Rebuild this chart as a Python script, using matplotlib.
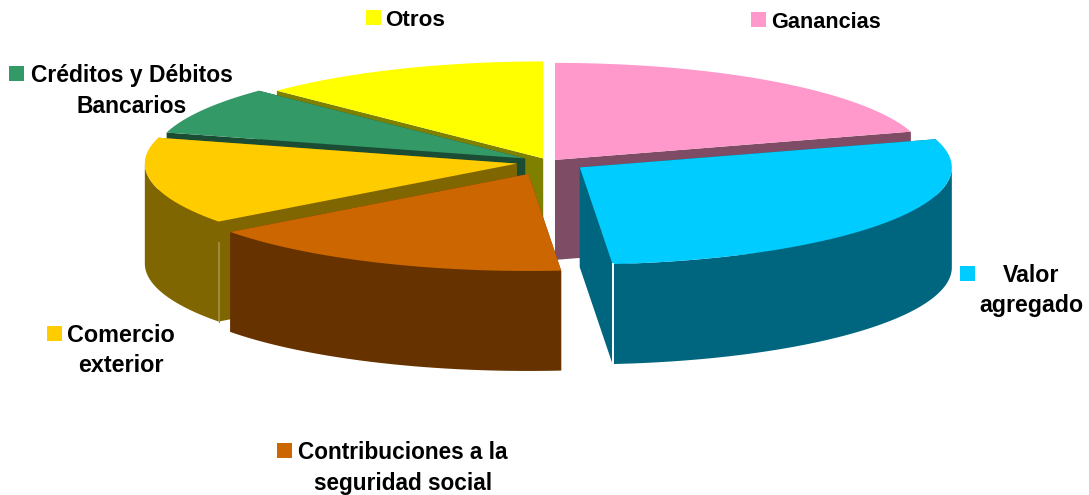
import numpy as np
import matplotlib
matplotlib.use("Agg")
import matplotlib.pyplot as plt
from matplotlib.patches import Polygon, Rectangle

categories = ["Ganancias", "Valor agregado", "Contribuciones a la seguridad social",
              "Comercio exterior", "Créditos y Débitos Bancarios", "Otros"]
values = [20.3, 28.3, 16.2, 14.5, 8.0, 12.7]
explode = [0.027, 0.10, 0.135, 0.088, 0.074, 0.04]
top_colors = ["#FF99CC", "#00CCFF", "#CC6600", "#FFCC00", "#339966", "#FFFF00"]
wall_colors = ["#7F4C66", "#006680", "#663300", "#806600", "#1A4D33", "#808000"]
draw_order = [0, 5, 4, 3, 2, 1]

W, H = 1089, 495
CX, CY, RX, RY, DEPTH = 549, 162, 372, 97, 100

plt.rcParams["font.family"] = ["Liberation Sans", "DejaVu Sans"]
fig = plt.figure(figsize=(W / 100, H / 100), dpi=100, facecolor="white")
ax = fig.add_axes([0, 0, 1, 1])
ax.set_xlim(0, W)
ax.set_ylim(H, 0)
ax.axis("off")

edges = np.concatenate([[0], np.cumsum(values)]) / sum(values) * 2 * np.pi


def rim(a0, a1, ox, oy, n=120):
    t = np.linspace(a0, a1, n)
    return np.column_stack([ox + RX * np.sin(t), oy - RY * np.cos(t)])


down = np.array([0, DEPTH])
for i in draw_order:
    z = draw_order.index(i) * 4
    a0, a1 = edges[i], edges[i + 1]
    mid = (a0 + a1) / 2
    ox = CX + explode[i] * RX * np.sin(mid)
    oy = CY - explode[i] * RY * np.cos(mid)
    apex = np.array([ox, oy])
    r = rim(a0, a1, ox, oy)
    for p in (r[0], r[-1]):
        ax.add_patch(Polygon([apex, p, p + down, apex + down], fc=wall_colors[i], ec="none", zorder=z + 1))
    front0, front1 = max(a0, np.pi / 2), min(a1, 3 * np.pi / 2)
    if front1 > front0:
        f = rim(front0, front1, ox, oy)
        ax.add_patch(Polygon(np.vstack([f, (f + down)[::-1]]), fc=wall_colors[i], ec="none", zorder=z + 2))
    ax.add_patch(Polygon(np.vstack([apex, r]), fc=top_colors[i], ec="none", zorder=z + 3))
    if categories[i] == "Valor agregado":
        ax.plot([r[-1][0]] * 2, [r[-1][1], r[-1][1] + DEPTH], color="white", lw=1.4, zorder=z + 3)
    if categories[i] == "Comercio exterior":
        ax.plot([r[0][0]] * 2, [r[0][1] + 20, r[0][1] + DEPTH], color="#9C8A40", lw=0.8, zorder=z + 3)

labels = ["Otros", "Ganancias", "Créditos y Débitos\nBancarios", "Valor\nagregado",
          "Comercio\nexterior", "Contribuciones a la\nseguridad social"]
label_colors = ["#FFFF00", "#FF99CC", "#339966", "#00CCFF", "#FFCC00", "#CC6600"]
label_sizes = [16.2, 15.6, 16.5, 16.7, 16.8, 16.3]
label_xy = [(415, 20), (826.5, 22), (131.5, 91), (1031.5, 290.5), (120.5, 350.5), (403, 468)]
swatch_xy = [(366, 10), (751, 12), (9, 66), (960, 266), (47, 326), (277, 443)]

for txt, col, size, (x, y), (sx, sy) in zip(labels, label_colors, label_sizes, label_xy, swatch_xy):
    ax.add_patch(Rectangle((sx, sy), 15, 15, fc=col, ec="none", zorder=40))
    ax.text(x, y, txt, ha="center", va="center", fontsize=size, fontweight="bold",
            color="black", linespacing=1.41, zorder=41)

fig.savefig("out.png", dpi=100)
